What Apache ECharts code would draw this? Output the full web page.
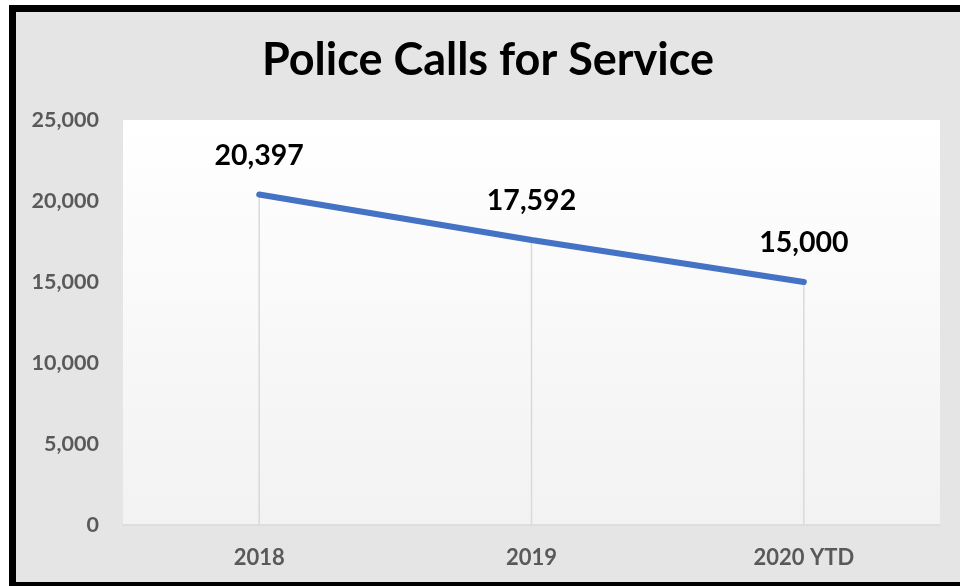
<!DOCTYPE html>
<html>
<head>
<meta charset="utf-8">
<script src="https://cdn.jsdelivr.net/npm/echarts@6/dist/echarts.min.js"></script>
<style>
  html, body { margin: 0; padding: 0; background: #ffffff; width: 960px; height: 586px; overflow: hidden; }
  #frame { position: absolute; left: 9px; top: 5px; width: 951px; height: 581px; background: #000000; }
  #chart { position: absolute; left: 16px; top: 12px; width: 944px; height: 570px; background: #e5e5e5; }
</style>
</head>
<body>
<div id="frame"></div>
<div id="chart"></div>
<script>
// Yearly totals of police calls for service
const years = ['2018', '2019', '2020 YTD'];
const calls = [20397, 17592, 15000];
const yTicks = [0, 5000, 10000, 15000, 20000, 25000];

const fmt = v => Number(v).toLocaleString('en-US');
const FONT = 'Lato, "Open Sans", sans-serif';

const chart = echarts.init(document.getElementById('chart'), null, { renderer: 'canvas' });
chart.setOption({
  animation: false,
  backgroundColor: '#e5e5e5',
  title: {
    text: 'Police Calls for Service',
    left: 'center',
    top: 21,
    textStyle: { fontFamily: FONT, fontWeight: 'bold', fontSize: 45, color: '#000000' }
  },
  grid: {
    left: 107, right: 20, top: 108, bottom: 57,
    show: true,
    borderWidth: 0,
    backgroundColor: new echarts.graphic.LinearGradient(0, 0, 0, 1, [
      { offset: 0, color: '#ffffff' },
      { offset: 1, color: '#f2f2f2' }
    ])
  },
  xAxis: {
    type: 'category',
    data: years,
    boundaryGap: true,
    axisLine: { lineStyle: { color: '#d9d9d9', width: 1.5 } },
    axisTick: { show: false },
    axisLabel: { fontFamily: FONT, fontWeight: 'bold', fontSize: 22, color: '#595959', margin: 22 },
    splitLine: { show: false }
  },
  yAxis: {
    type: 'value',
    min: yTicks[0],
    max: yTicks[yTicks.length - 1],
    interval: yTicks[1] - yTicks[0],
    axisLine: { show: false },
    axisTick: { show: false },
    splitLine: { show: false },
    axisLabel: { fontFamily: FONT, fontWeight: 'bold', fontSize: 21.5, color: '#595959', margin: 24, formatter: fmt }
  },
  series: [
    {
      // drop lines from each point down to the axis
      type: 'bar',
      data: calls,
      barWidth: 1.5,
      itemStyle: { color: '#d9d9d9' },
      silent: true,
      z: 1
    },
    {
      type: 'line',
      data: calls,
      symbol: 'circle',
      symbolSize: 1,
      itemStyle: { color: '#4472c4' },
      lineStyle: { color: '#4472c4', width: 6, cap: 'round' },
      label: {
        show: true,
        position: 'top',
        distance: 24,
        fontFamily: FONT,
        fontWeight: 'bold',
        fontSize: 28.5,
        color: '#000000',
        formatter: p => fmt(p.value)
      },
      z: 3
    }
  ]
});
</script>
</body>
</html>
